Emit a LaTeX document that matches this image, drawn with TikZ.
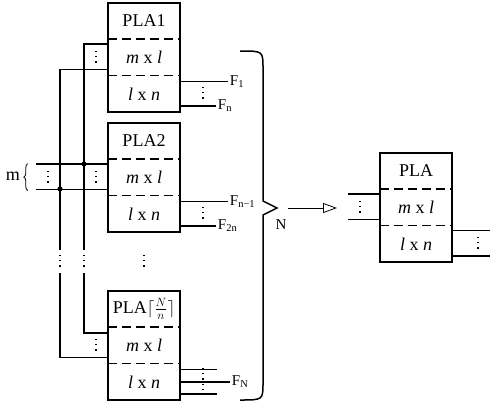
\documentclass[tikz,border=0pt]{standalone}
\usepackage{fontspec}
\setmainfont{Liberation Serif}
\usetikzlibrary{positioning, calc, decorations.pathreplacing, arrows.meta}

\tikzset{
  sec/.style={minimum width=72pt, minimum height=36pt, inner sep=0pt, font=\fontsize{18}{20}\selectfont},
  wire/.style={line width=1.5pt},
  sepline/.style={line width=1.5pt, dash pattern=on 9pt off 5pt},
  vdot/.style={line width=1.2pt, dash pattern=on 1.2pt off 4pt},
  flab/.style={font=\fontsize{15}{17}\selectfont, inner sep=1pt, anchor=west},
}

\begin{document}
\begin{tikzpicture}[x=1pt, y=-1pt]
	\useasboundingbox (0,0) rectangle (492,410);
	% the PLA boxes
	\foreach \n/\x/\y/\t in {a/144/21/PLA1, b/144/141/PLA2, c/144/309/{PLA$\lceil\frac{N}{n}\rceil$}, r/416/171/PLA} {
		\node[sec] (\n1) at (\x,\y) {\t};
		\node[sec, below=0pt of \n1] (\n2) {\textit{m} x \textit{l}};
		\node[sec, below=0pt of \n2] (\n3) {\textit{l} x \textit{n}};
		\draw[wire] (\n1.north west) rectangle (\n3.south east);
		\draw[sepline] (\n1.south west) -- (\n1.south east);
		\draw[sepline] (\n2.south west) -- (\n2.south east);
	}
	% input buses
	\draw[wire] ($(a2.north west)+(0,5)$) -| (84,250);
	\draw[wire] ($(a2.south west)+(0,-6)$) -| (60,250);
	\draw[wire] ($(b2.north west)+(0,5)$) -- ++(-72,0) coordinate (m1);
	\draw[wire] ($(b2.south west)+(0,-6)$) -- ++(-72,0) coordinate (m2);
	\fill (84,164) circle (2.6pt);
	\fill (60,189) circle (2.6pt);
	\draw[wire] ($(c2.north west)+(0,6)$) -| (84,273);
	\draw[wire] ($(c2.south west)+(0,-6)$) -| (60,273);
	\node[font=\fontsize{18}{20}\selectfont] (mlab) at (13,176) {m};
	\draw[decorate, decoration={brace, amplitude=4pt}, line width=0.8pt] (m2) ++(-8,1) -- ++(0,-27);
	% outputs
	\draw[wire] ($(a3.north east)+(0,6)$) -- ++(48,0) node[flab] (f1) {F\textsubscript{1}};
	\draw[wire] ($(a3.south east)+(0,-6)$) -- ++(36,0) node[flab] (fn) {F\textsubscript{n}};
	\draw[wire] ($(b3.north east)+(0,6)$) -- ++(48,0) node[flab] (fn1) {F\textsubscript{n−1}};
	\draw[wire] ($(b3.south east)+(0,-6)$) -- ++(36,0) node[flab] (f2n) {F\textsubscript{2n}};
	\draw[wire] ($(c3.north east)+(0,6)$) -- ++(37,0);
	\draw[wire] (c3.east) -- ++(50,0) node[flab] (fN) {F\textsubscript{N}};
	\draw[wire] ($(c3.south east)+(0,-6)$) -- ++(37,0);
	% right PLA
	\draw[wire] ($(r2.north west)+(0,5)$) -- ++(-32,0);
	\draw[wire] ($(r2.south west)+(0,-6)$) -- ++(-32,0);
	\draw[wire] ($(r3.north east)+(0,5)$) -- ++(38,0);
	\draw[wire] ($(r3.south east)+(0,-6)$) -- ++(38,0);
	% dots
	\foreach \x/\y in {96/57, 48/177, 96/177, 96/345, 203/93, 203/213, 360/207, 478/243, 60/261, 84/261, 144/261}
		\draw[vdot] (\x,\y-6) -- (\x,\y+7);
	\draw[vdot] (203,368) -- (203,395);
	% big brace and arrow
	\draw[wire] (240,51) .. controls (263,51) .. (263,68) -- (263,201) -- (277,208) -- (263,215) -- (263,383) .. controls (263,400) .. (240,400);
	\coordinate (tip) at (288,208);
	\node[font=\fontsize{15}{17}\selectfont] (nlab) at (281,225) {N};
	\draw[line width=0.8pt, -{Triangle[open, length=14pt, width=10pt]}] (tip) -- ++(49,0) coordinate (head);
\end{tikzpicture}
\end{document}
